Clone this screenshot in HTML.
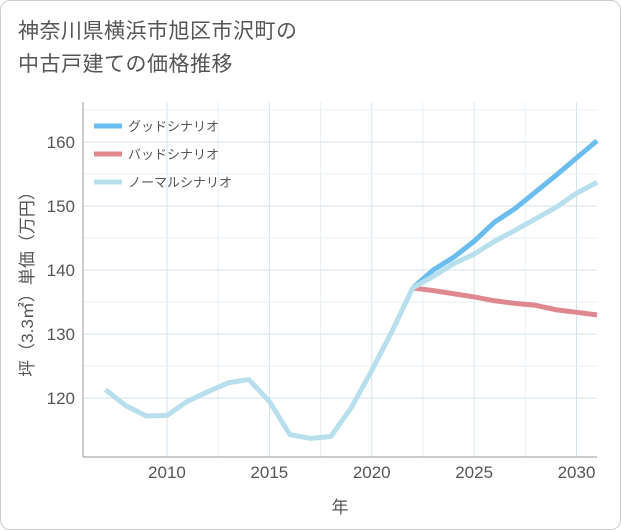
<!DOCTYPE html>
<html><head><meta charset="utf-8"><style>
body{margin:0;background:#fff;}
#card{position:absolute;left:0;top:0;width:619px;height:528px;border:1px solid #ccc;border-radius:10px;background:#fff;}
#title{position:absolute;left:17px;top:14px;font:21px/33px "Liberation Sans","Noto Sans CJK JP",sans-serif;color:#555;letter-spacing:0.5px;}
svg{position:absolute;left:0;top:0;}
text{font-family:"Liberation Sans","Noto Sans CJK JP",sans-serif;}
</style></head><body>
<div id="card">
<div id="title">神奈川県横浜市旭区市沢町の<br>中古戸建ての価格推移</div>
</div>
<svg id="chart" width="621" height="530"></svg>
<script>
const years=[2007,2008,2009,2010,2011,2012,2013,2014,2015,2016,2017,2018,2019,2020,2021,2022,2023,2024,2025,2026,2027,2028,2029,2030,2031];
const normal=[121.3,118.8,117.2,117.3,119.5,121,122.4,122.9,119.5,114.3,113.7,114,118.5,124.3,130.5,137.2,139,141,142.5,144.5,146.2,148,149.8,152,153.7];
const goodYears=[2022,2023,2024,2025,2026,2027,2028,2029,2030,2031];
const good=[137.2,140,142,144.5,147.5,149.6,152.2,154.8,157.5,160.2];
const bad=[137.2,136.8,136.3,135.8,135.2,134.8,134.5,133.8,133.4,133];
const xTicks=[2010,2015,2020,2025,2030];
const yTicks=[120,130,140,150,160];
const L=83,R=597,T=102,B=457,x0=2005.9,x1=2031,y0=110.8,y1=166.25;
const X=v=>L+(v-x0)/(x1-x0)*(R-L);
const Y=v=>B-(v-y0)/(y1-y0)*(B-T);
const svg=document.getElementById('chart');
const NS='http://www.w3.org/2000/svg';
function mk(t,a){const e=document.createElementNS(NS,t);for(const k in a)e.setAttribute(k,a[k]);svg.appendChild(e);return e;}
const bg=mk('rect',{x:L,y:T,width:R-L,height:B-T,fill:'#fff'});


for(const t of xTicks){
 for(const v of [t,t+2.5]){const g=mk('line',{x1:X(v),x2:X(v),y1:T,y2:B,stroke:v===t?'#d4e2ec':'#e8eff4','stroke-width':1});
 
 }
 const tx=mk('text',{x:X(t),y:B+21,'text-anchor':'middle','font-size':17,fill:'#555'});tx.textContent=t;
 
 
}
for(const t of yTicks){
 for(const v of [t,t+5]){if(Y(v)<T)continue;const g=mk('line',{x1:L,x2:R,y1:Y(v),y2:Y(v),stroke:v===t?'#d4e2ec':'#e8eff4','stroke-width':1});
 
 }
 const tx=mk('text',{x:L-8,y:Y(t)+6,'text-anchor':'end','font-size':17,fill:'#555'});tx.textContent=t;
 
 
}
const ax=mk('line',{x1:L,x2:L,y1:T,y2:B,stroke:'#999'});


const ax2=mk('line',{x1:L,x2:R,y1:B,y2:B,stroke:'#999'});


function line(xs,vs,c,name){const p=mk('polyline',{points:xs.map((y,i)=>X(y)+','+Y(vs[i])).join(' '),fill:'none',stroke:c,'stroke-width':5,'stroke-linejoin':'round'});
 
 }
line(goodYears,good,'#6bbdf0','good-scenario-line');
line(goodYears,bad,'#e0888f','bad-scenario-line');
line(years,normal,'#b8dfec','normal-scenario-line');
const leg=[['グッドシナリオ','#6bbdf0'],['バッドシナリオ','#e0888f'],['ノーマルシナリオ','#b8dfec']];
leg.forEach((l,i)=>{const y=126+i*28;
 const s=mk('line',{x1:94,x2:122,y1:y,y2:y,stroke:l[1],'stroke-width':5});
 
 
 const t=mk('text',{x:128,y:y+5,'font-size':13,fill:'#555'});t.textContent=l[0];
 
 
});
const xt=mk('text',{x:340,y:513,'text-anchor':'middle','font-size':17,fill:'#555'});xt.textContent='年';


const yt=mk('text',{x:0,y:0,'text-anchor':'middle','font-size':17,fill:'#555',transform:'translate(33,280) rotate(-90)'});yt.textContent='坪（3.3㎡）単価（万円）';


</script>
</body></html>
